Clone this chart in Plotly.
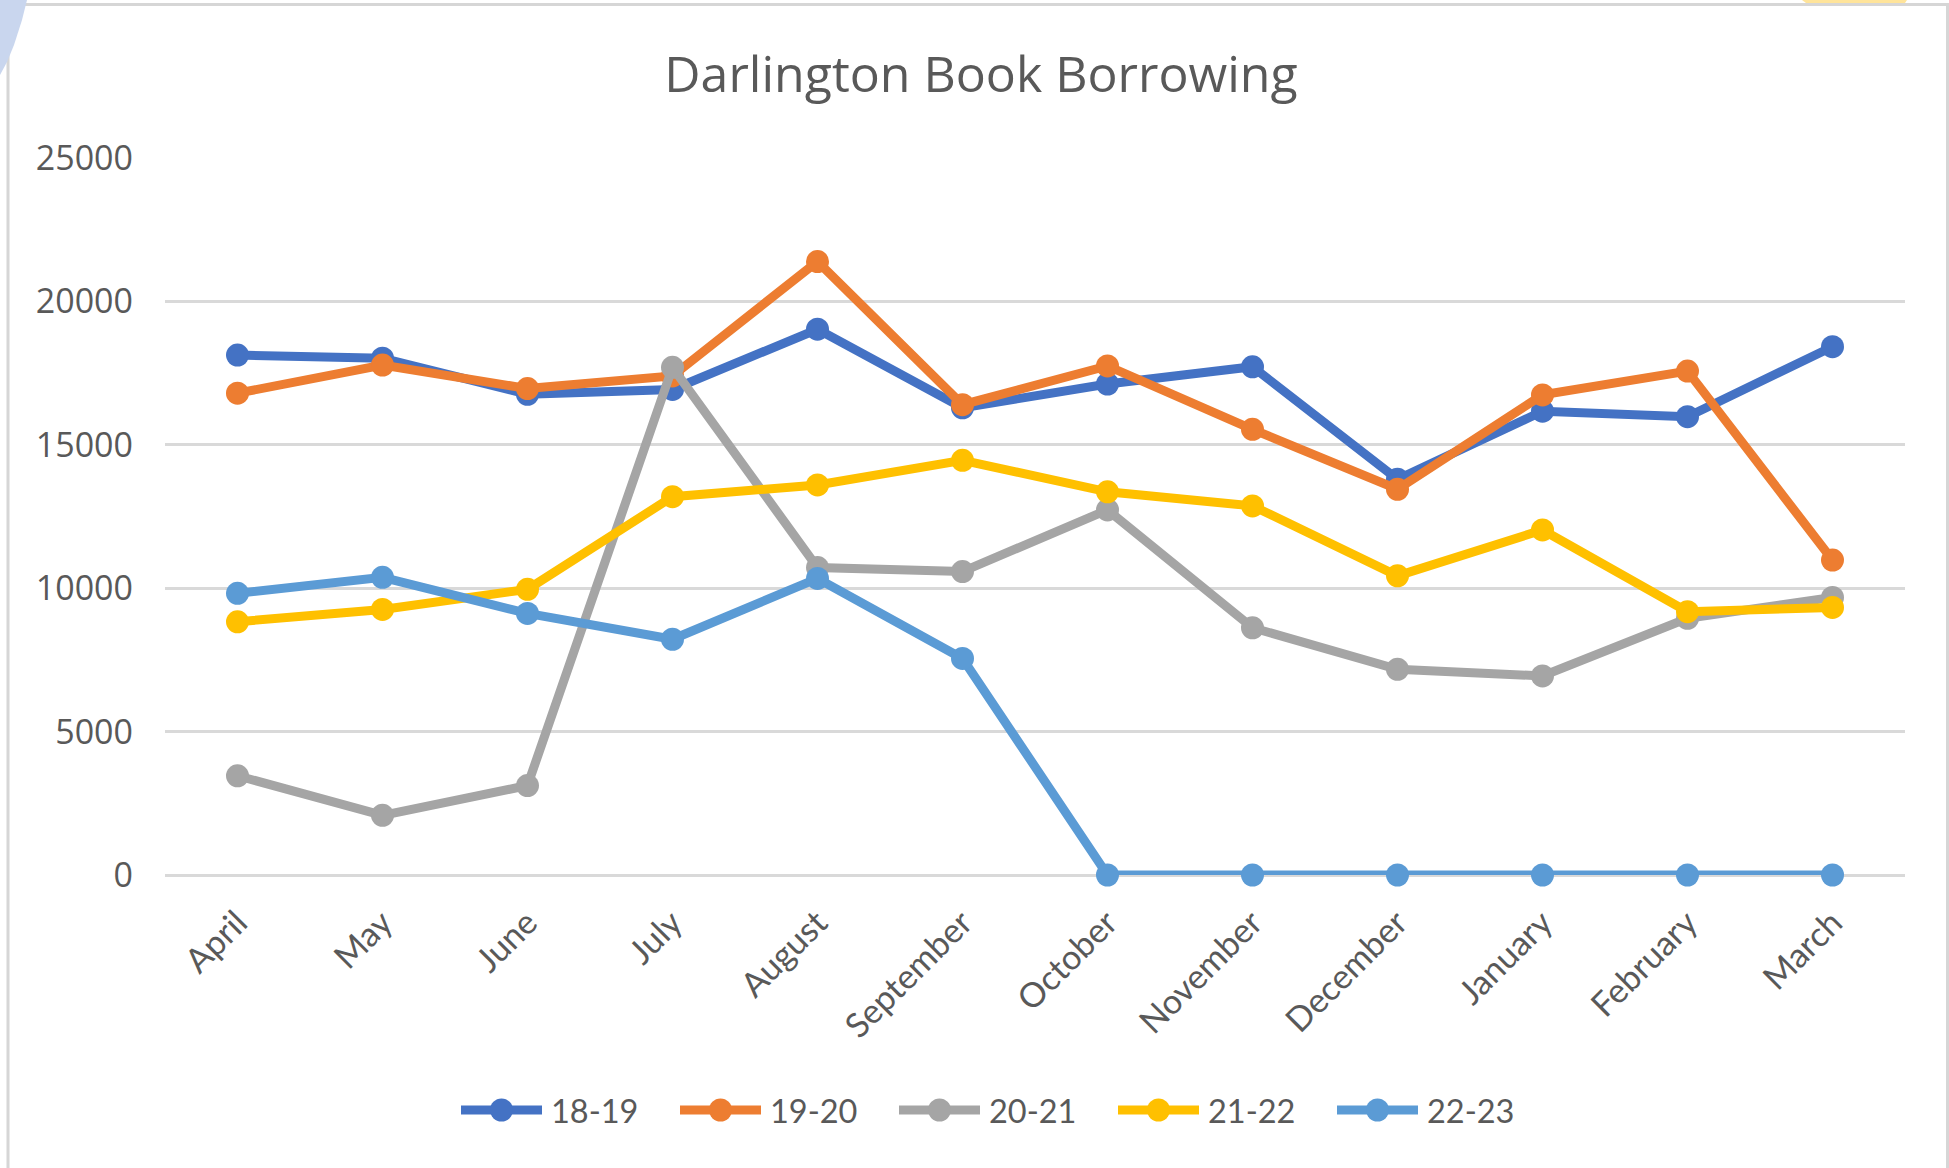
import plotly.graph_objects as go

W, H = 1949, 1168

months = ["April", "May", "June", "July", "August", "September", "October",
          "November", "December", "January", "February", "March"]

series_names = ["18-19", "19-20", "20-21", "21-22", "22-23"]
series_colors = ["#4472C4", "#ED7D31", "#A5A5A5", "#FFC000", "#5B9BD5"]

y_18_19 = [18130, 18020, 16760, 16930, 19030, 16290, 17120, 17720, 13800, 16170, 15980, 18420]
y_19_20 = [16800, 17780, 16960, 17400, 21390, 16400, 17750, 15540, 13450, 16740, 17570, 10980]
y_20_21 = [3460, 2080, 3120, 17700, 10720, 10580, 12730, 8620, 7170, 6940, 8950, 9680]
y_21_22 = [8830, 9260, 9960, 13190, 13600, 14460, 13360, 12870, 10430, 12030, 9180, 9330]
y_22_23 = [9820, 10380, 9120, 8220, 10340, 7550, 0, 0, 0, 0, 0, 0]

all_series = [y_18_19, y_19_20, y_20_21, y_21_22, y_22_23]

y_ticks = [0, 5000, 10000, 15000, 20000, 25000]

TEXT = "#595959"
GRID = "#D9D9D9"

# plot-area pixel box
PL, PR, PT, PB = 165, 1905, 158, 875

fig = go.Figure()
for name, color, ys in zip(series_names, series_colors, all_series):
    fig.add_trace(go.Scatter(
        x=months, y=ys, name=name, mode="lines+markers",
        line=dict(color=color, width=9),
        marker=dict(color=color, size=23, line=dict(width=0)),
        showlegend=False, cliponaxis=False,
    ))

shapes = []
annotations = []

def px(x):
    return x / W

def py(y):
    return 1 - y / H

# outer frame
shapes.append(dict(type="rect", xref="paper", yref="paper",
                   x0=px(8), x1=px(1947.5), y0=py(1200), y1=py(4.5),
                   line=dict(color="#D6D6D6", width=3), fillcolor="rgba(0,0,0,0)", layer="below"))
# corner artifacts
shapes.append(dict(type="path", xref="paper", yref="paper",
                   path=f"M {px(0)},{py(0)} L {px(27)},{py(0)} L {px(22)},{py(20)} L {px(14)},{py(45)} L {px(7)},{py(62)} L {px(0)},{py(75)} Z",
                   fillcolor="#C9D6EE", line=dict(width=0), layer="below"))
shapes.append(dict(type="path", xref="paper", yref="paper",
                   path=f"M {px(1802)},{py(0)} L {px(1907)},{py(0)} L {px(1905)},{py(3)} L {px(1806)},{py(3)} Z",
                   fillcolor="#FFE49A", line=dict(width=0), layer="below"))

# custom legend (Excel-like long line symbol)
LEG_Y = 1110
LEG_X0 = 457
LEG_STEP = 219
LEG_LINE = 89
for i, (name, color) in enumerate(zip(series_names, series_colors)):
    x0 = LEG_X0 + i * LEG_STEP
    shapes.append(dict(type="line", xref="paper", yref="paper",
                       x0=px(x0 + 4), x1=px(x0 + LEG_LINE - 4), y0=py(LEG_Y), y1=py(LEG_Y),
                       line=dict(color=color, width=9)))
    shapes.append(dict(type="circle", xref="paper", yref="paper",
                       xsizemode="pixel", ysizemode="pixel",
                       xanchor=px(x0 + LEG_LINE / 2), yanchor=py(LEG_Y),
                       x0=-11.5, x1=11.5, y0=-11.5, y1=11.5,
                       fillcolor=color, line=dict(width=0)))
    annotations.append(dict(xref="paper", yref="paper", x=px(x0 + LEG_LINE + 3), y=py(LEG_Y),
                            xanchor="left", yanchor="middle", showarrow=False, text=name,
                            font=dict(family="Lato", size=32.5, color=TEXT)))

fig.update_layout(
    width=W, height=H, autosize=False,
    margin=dict(l=0, r=0, t=0, b=0, autoexpand=False),
    paper_bgcolor="white", plot_bgcolor="white",
    title=dict(text="Darlington Book Borrowing", x=981 / W, xanchor="center",
               y=py(74.5), yanchor="middle", automargin=False,
               font=dict(family="Open Sans", size=50, color=TEXT)),
    xaxis=dict(domain=[PL / W, PR / W], range=[-0.5, 11.5], type="category",
               automargin=False,
               showgrid=False, showline=False, ticks="", zeroline=False,
               tickangle=-45, ticklabelstandoff=20,
               tickfont=dict(family="Lato", size=34, color=TEXT)),
    yaxis=dict(domain=[1 - PB / H, 1 - PT / H], range=[0, 25000],
               automargin=False,
               tickvals=y_ticks, tickformat="d",
               showgrid=True, gridcolor=GRID, gridwidth=2.5,
               zeroline=True, zerolinecolor=GRID, zerolinewidth=2.5,
               showline=False, ticks="", ticklabelstandoff=31,
               tickfont=dict(family="Open Sans", size=34, color=TEXT)),
    shapes=shapes,
    annotations=annotations,
    showlegend=False,
)

fig.write_html("out.html")
